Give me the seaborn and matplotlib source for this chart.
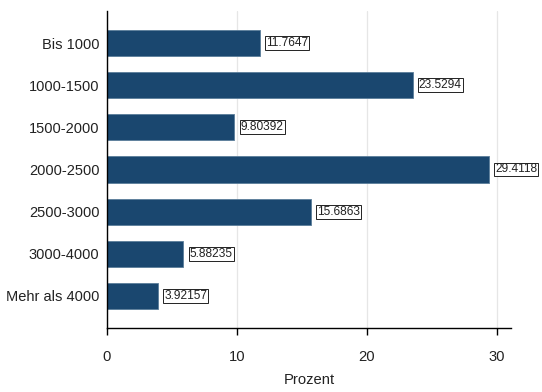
import pandas as pd
import seaborn as sns
import matplotlib.pyplot as plt

# Data
categories = ["Bis 1000", "1000-1500", "1500-2000", "2000-2500",
              "2500-3000", "3000-4000", "Mehr als 4000"]
prozent = [11.7647, 23.5294, 9.80392, 29.4118, 15.6863, 5.88235, 3.92157]

df = pd.DataFrame({"kategorie": categories, "prozent": prozent})

sns.set_style("white")
plt.rcParams["font.family"] = ["Liberation Sans", "DejaVu Sans"]

fig = plt.figure(figsize=(5.42, 3.92), dpi=100)
ax = fig.add_axes([107 / 542, 1 - 328 / 392, (511 - 107) / 542, (328 - 11) / 392])

sns.barplot(data=df, x="prozent", y="kategorie", order=categories,
            color="#1a476f", saturation=1, width=0.62,
            edgecolor="#5a7d9a", linewidth=0.6, ax=ax)

# value labels in little boxes
for i, v in enumerate(prozent):
    ax.annotate(f"{v:.6g}", xy=(v, i), xytext=(4.5, 0), textcoords="offset points",
                ha="left", va="center", fontsize=8.6, color="#222222",
                bbox=dict(boxstyle="square,pad=0.08", fc="white", ec="#222222", lw=0.7))

ax.set_xlim(0, 31.1)
ax.set_ylim(6.76, -0.76)
ax.set_xticks([0, 10, 20, 30])
ax.xaxis.grid(True, color="#e6e6e6", linewidth=0.9)
ax.set_axisbelow(True)

for side in ["top", "right"]:
    ax.spines[side].set_visible(False)
for side in ["left", "bottom"]:
    ax.spines[side].set_color("black")
    ax.spines[side].set_linewidth(1.0)

ax.tick_params(axis="x", which="major", bottom=True, length=5, width=1,
               color="black", pad=11, labelsize=10.6, labelcolor="#222222")
ax.tick_params(axis="y", left=False, pad=2, labelsize=10.5, labelcolor="#222222")

ax.set_xlabel("Prozent", fontsize=10.6, labelpad=6, color="#222222")
ax.set_ylabel("")

fig.savefig("out.png", dpi=100)
